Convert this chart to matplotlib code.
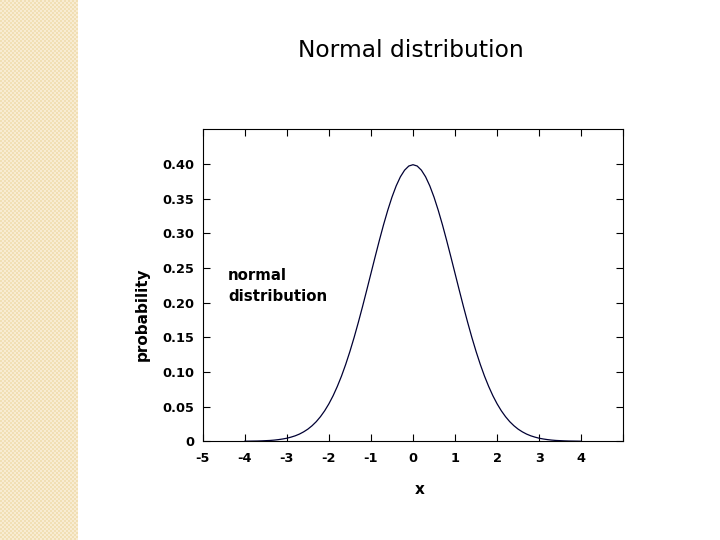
import numpy as np
import matplotlib as mpl
import matplotlib.pyplot as plt

mpl.use('Agg')
plt.rcParams['font.family'] = ['DejaVu Sans']

# values
x_vals = [-4.0, -3.9, -3.8, -3.7, -3.6, -3.5, -3.4, -3.3, -3.2, -3.1,
          -3.0, -2.9, -2.8, -2.7, -2.6, -2.5, -2.4, -2.3, -2.2, -2.1,
          -2.0, -1.9, -1.8, -1.7, -1.6, -1.5, -1.4, -1.3, -1.2, -1.1,
          -1.0, -0.9, -0.8, -0.7, -0.6, -0.5, -0.4, -0.3, -0.2, -0.1,
          0.0, 0.1, 0.2, 0.3, 0.4, 0.5, 0.6, 0.7, 0.8, 0.9,
          1.0, 1.1, 1.2, 1.3, 1.4, 1.5, 1.6, 1.7, 1.8, 1.9,
          2.0, 2.1, 2.2, 2.3, 2.4, 2.5, 2.6, 2.7, 2.8, 2.9,
          3.0, 3.1, 3.2, 3.3, 3.4, 3.5, 3.6, 3.7, 3.8, 3.9, 4.0]
prob = [0.0001, 0.0002, 0.0003, 0.0004, 0.0006, 0.0009, 0.0012, 0.0017, 0.0024, 0.0033,
        0.0044, 0.0060, 0.0079, 0.0104, 0.0136, 0.0175, 0.0224, 0.0283, 0.0355, 0.0440,
        0.0540, 0.0656, 0.0790, 0.0940, 0.1109, 0.1295, 0.1497, 0.1714, 0.1942, 0.2179,
        0.2420, 0.2661, 0.2897, 0.3123, 0.3332, 0.3521, 0.3683, 0.3814, 0.3910, 0.3970,
        0.3989, 0.3970, 0.3910, 0.3814, 0.3683, 0.3521, 0.3332, 0.3123, 0.2897, 0.2661,
        0.2420, 0.2179, 0.1942, 0.1714, 0.1497, 0.1295, 0.1109, 0.0940, 0.0790, 0.0656,
        0.0540, 0.0440, 0.0355, 0.0283, 0.0224, 0.0175, 0.0136, 0.0104, 0.0079, 0.0060,
        0.0044, 0.0033, 0.0024, 0.0017, 0.0012, 0.0009, 0.0006, 0.0004, 0.0003, 0.0002, 0.0001]
x_ticks = [-5, -4, -3, -2, -1, 0, 1, 2, 3, 4, 5]
x_labels = ['-5', '-4', '-3', '-2', '-1', '0', '1', '2', '3', '4', '']
y_ticks = [0, 0.05, 0.10, 0.15, 0.20, 0.25, 0.30, 0.35, 0.40]
y_labels = ['0', '0.05', '0.10', '0.15', '0.20', '0.25', '0.30', '0.35', '0.40']

fig = plt.figure(figsize=(7.2, 5.4), dpi=100)

# slide decoration strip on the left
strip = fig.add_axes([0, 0, 78 / 720, 1])
yy, xx = np.mgrid[0:540, 0:78]
pat = ((xx // 2 + yy // 2) % 2).astype(float)
strip.imshow(pat, cmap=mpl.colors.ListedColormap(['#f1dfb4', '#f8ecd2']),
             aspect='auto', interpolation='nearest')
strip.axis('off')

fig.text(0.571, 0.907, 'Normal distribution', ha='center', va='center', fontsize=16.8)

ax = fig.add_axes([0.2815, 0.1828, 0.5842, 0.5778])
ax.plot(x_vals, prob, color='#000033', lw=0.9)
ax.set_xlim(-5, 5)
ax.set_ylim(0, 0.45)
ax.set_xticks(x_ticks)
ax.set_xticklabels(x_labels, fontweight='bold')
ax.set_yticks(y_ticks)
ax.set_yticklabels(y_labels, fontweight='bold')
ax.tick_params(direction='in', length=5, width=0.8, top=True, right=True,
               labelsize=9.3)
ax.tick_params(axis='x', pad=8)
ax.tick_params(axis='y', pad=6)
for s in ax.spines.values():
    s.set_linewidth(0.8)

ax.set_xlabel('x', fontsize=11, fontweight='bold', va='center')
ax.xaxis.set_label_coords(0.517, -0.153)
ax.set_ylabel('probability', fontsize=11, fontweight='bold', va='center')
ax.yaxis.set_label_coords(-0.144, 0.408)
ax.text(-4.4, 0.224, 'normal\ndistribution', fontsize=10.8, fontweight='bold',
        ha='left', va='center', linespacing=1.45)

plt.savefig('out.png', dpi=100)
